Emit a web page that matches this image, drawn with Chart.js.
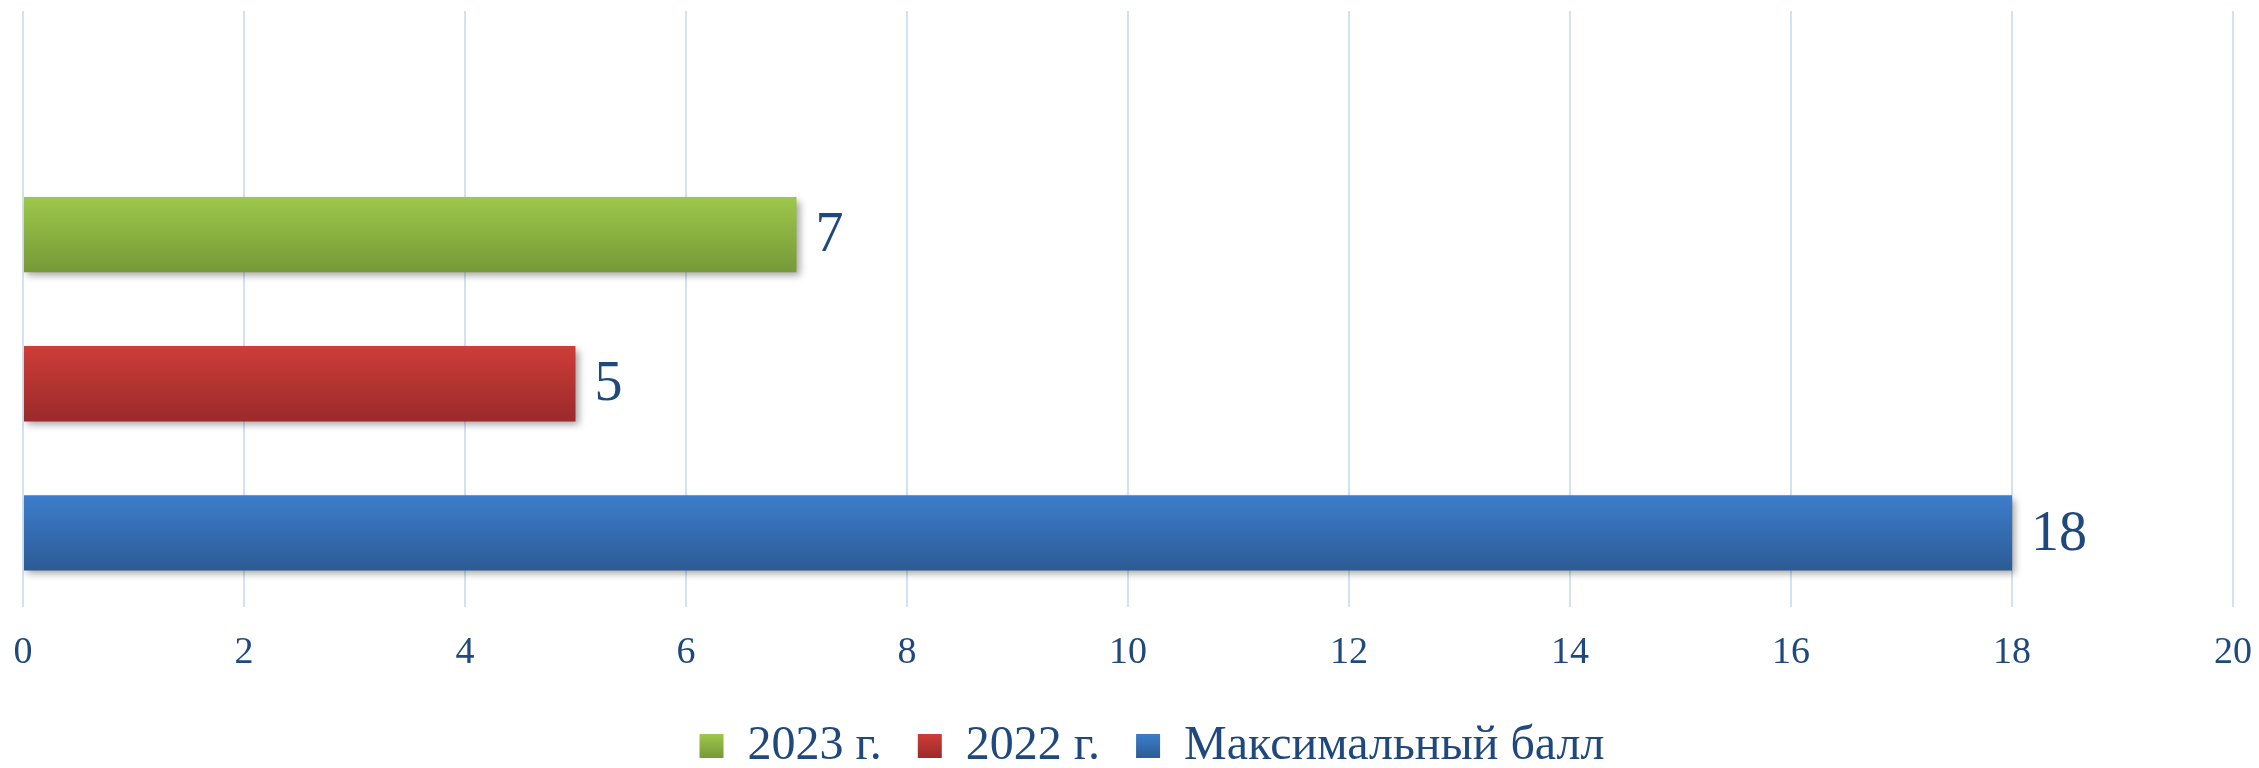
<!DOCTYPE html>
<html>
<head>
<meta charset="utf-8">
<script src="https://cdn.jsdelivr.net/npm/chart.js@4/dist/chart.umd.min.js"></script>
<style>
  html, body { margin: 0; padding: 0; background: #fff; overflow: hidden; }
</style>
</head>
<body>
<canvas id="chart" width="2259" height="768"></canvas>
<script>
// categories top -> bottom (first row is empty, as in the original)
const categories = ['', '2023 г.', '2022 г.', 'Максимальный балл'];
const seriesNames = ['2023 г.', '2022 г.', 'Максимальный балл'];
const seriesValues = [7, 5, 18];
const xTicks = [0, 2, 4, 6, 8, 10, 12, 14, 16, 18, 20];

const TEXT = '#1F497D';
const FONT = 'Liberation Serif, Times New Roman, serif';
const BAR_PCT = 0.505;
// top / bottom shades of each series gradient
const tops    = ['#9DC84B', '#CE3D39', '#3D7DCC'];
const bottoms = ['#769938', '#9A2A2A', '#2C5B95'];

function vGrad(ctx, y0, y1, si) {
  if (!isFinite(y0) || !isFinite(y1) || y0 === y1) return tops[si];
  const g = ctx.createLinearGradient(0, y0, 0, y1);
  g.addColorStop(0, tops[si]);
  g.addColorStop(1, bottoms[si]);
  return g;
}

function barFill(chart, idx, si) {
  const y = chart.scales.y;
  if (!y || idx === undefined || !y.height) return tops[si];
  const mid = y.getPixelForValue(idx);
  const half = (y.height / categories.length) * BAR_PCT / 2;
  return vGrad(chart.ctx, mid - half, mid + half, si);
}

const barDecor = {
  id: 'barDecor',
  beforeDatasetsDraw(chart) {
    const ctx = chart.ctx;
    ctx.save();
    ctx.shadowColor = 'rgba(0,0,0,0.35)';
    ctx.shadowBlur = 7;
    ctx.shadowOffsetX = 3;
    ctx.shadowOffsetY = 4;
  },
  afterDatasetsDraw(chart) {
    const ctx = chart.ctx;
    ctx.restore();
    ctx.save();
    ctx.fillStyle = TEXT;
    ctx.font = '56px ' + FONT;
    ctx.textAlign = 'left';
    ctx.textBaseline = 'middle';
    chart.data.datasets.forEach((ds, di) => {
      chart.getDatasetMeta(di).data.forEach((bar, i) => {
        if (ds.data[i] == null) return;
        ctx.fillText(String(ds.data[i]), bar.x + 19, bar.y + 2);
      });
    });
    ctx.restore();
  },
  afterLayout(chart) {
    const lg = chart.legend;
    if (!lg || !isFinite(lg.top)) return;
    // nudge the legend row to where the original has it, keep it unclipped
    lg.top -= 13;
    lg.bottom = chart.height;
    lg.height = lg.bottom - lg.top;
    lg.left += 24; lg.right += 24;
    const top = lg.top + lg.options.labels.padding + 12;
    chart._legendGrads = tops.map((t, i) => vGrad(chart.ctx, top, top + 24, i));
  }
};

const datasets = seriesNames.map((name, si) => ({
  label: name,
  data: categories.map(c => (c === name ? seriesValues[si] : null)),
  backgroundColor: c => barFill(c.chart, c.dataIndex, si),
  borderWidth: 0,
  grouped: false,
  barPercentage: BAR_PCT,
  categoryPercentage: 1,
}));

const chart = new Chart(document.getElementById('chart').getContext('2d'), {
  type: 'bar',
  data: { labels: categories, datasets },
  plugins: [barDecor],
  options: {
    indexAxis: 'y',
    responsive: false,
    animation: false,
    layout: { padding: { left: 23, right: 26, top: 11, bottom: 0 } },
    plugins: {
      tooltip: { enabled: false },
      legend: {
        position: 'bottom',
        maxHeight: 69,
        labels: {
          color: TEXT,
          font: { family: FONT, size: 48 },
          boxWidth: 24,
          boxHeight: 24,
          padding: 36,
          generateLabels(chart) {
            const items = Chart.defaults.plugins.legend.labels.generateLabels(chart);
            return items.map((it, i) => {
              it.fillStyle = (chart._legendGrads && chart._legendGrads[i]) || tops[i];
              it.strokeStyle = 'rgba(0,0,0,0)';
              it.lineWidth = 0;
              return it;
            });
          },
        },
      },
    },
    scales: {
      x: {
        min: xTicks[0],
        max: xTicks[xTicks.length - 1],
        afterBuildTicks: s => { s.ticks = xTicks.map(v => ({ value: v })); },
        afterFit: s => { s.paddingLeft = 0; s.paddingRight = 0; },
        ticks: { color: TEXT, font: { family: FONT, size: 38 }, padding: 23, maxRotation: 0 },
        grid: { color: '#D3E1F2', lineWidth: 2, drawTicks: false },
        border: { display: false },
      },
      y: {
        display: false,
      },
    },
  },
});
// second pass so the legend picks up the gradients made after layout
chart.update();
</script>
</body>
</html>
